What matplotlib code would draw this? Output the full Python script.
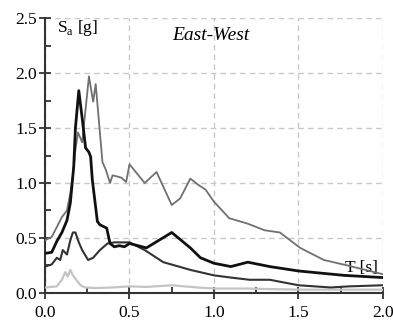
import matplotlib
matplotlib.use("Agg")
import matplotlib.pyplot as plt
from matplotlib.ticker import MultipleLocator

plt.rcParams['font.family'] = ['Liberation Serif', 'DejaVu Serif']
plt.rcParams['mathtext.fontset'] = 'custom'
plt.rcParams['mathtext.rm'] = 'Liberation Serif'

# spectra
t_gray = [0, 0.04, 0.07, 0.10, 0.13, 0.15, 0.165, 0.18, 0.195, 0.22, 0.26, 0.285, 0.30,
          0.34, 0.36, 0.385, 0.40, 0.45, 0.48, 0.50, 0.59, 0.66, 0.75, 0.80, 0.86, 0.91,
          0.95, 1.0, 1.09, 1.2, 1.3, 1.39, 1.51, 1.65, 1.79, 2.0]
sa_gray = [0.48, 0.51, 0.60, 0.69, 0.75, 0.91, 1.07, 1.30, 1.46, 1.37, 1.97, 1.74, 1.90,
           1.19, 1.12, 1.00, 1.07, 1.05, 1.01, 1.17, 1.0, 1.1, 0.8, 0.86, 1.04, 0.98,
           0.94, 0.83, 0.68, 0.63, 0.57, 0.55, 0.41, 0.30, 0.25, 0.17]

t_black = [0, 0.04, 0.07, 0.10, 0.13, 0.15, 0.17, 0.18, 0.20, 0.22, 0.24, 0.26, 0.27,
           0.28, 0.31, 0.325, 0.365, 0.385, 0.41, 0.44, 0.47, 0.50, 0.60, 0.75, 0.86,
           0.92, 1.0, 1.1, 1.2, 1.33, 1.5, 1.77, 2.0]
sa_black = [0.36, 0.37, 0.47, 0.55, 0.66, 0.82, 1.15, 1.5, 1.84, 1.59, 1.32, 1.28, 1.24,
            1.03, 0.65, 0.62, 0.59, 0.45, 0.42, 0.43, 0.42, 0.45, 0.41, 0.55, 0.41,
            0.32, 0.27, 0.24, 0.28, 0.24, 0.20, 0.16, 0.14]

t_dark = [0, 0.04, 0.07, 0.09, 0.105, 0.13, 0.15, 0.165, 0.18, 0.20, 0.22, 0.255, 0.285,
          0.325, 0.37, 0.41, 0.50, 0.59, 0.70, 0.86, 1.0, 1.1, 1.21, 1.33, 1.5, 1.69,
          1.8, 2.0]
sa_dark = [0.24, 0.26, 0.32, 0.30, 0.39, 0.35, 0.48, 0.55, 0.55, 0.46, 0.39, 0.30, 0.32,
           0.39, 0.45, 0.46, 0.46, 0.39, 0.28, 0.21, 0.16, 0.14, 0.12, 0.12, 0.07, 0.05,
           0.06, 0.07]

t_light = [0, 0.07, 0.10, 0.12, 0.135, 0.15, 0.165, 0.185, 0.21, 0.235, 0.3, 0.4, 0.5,
           0.6, 0.75, 0.9, 1.0, 1.2, 1.5, 1.75, 2.0]
sa_light = [0.05, 0.06, 0.12, 0.19, 0.15, 0.21, 0.16, 0.12, 0.07, 0.05, 0.045, 0.05,
            0.06, 0.055, 0.07, 0.05, 0.04, 0.04, 0.03, 0.03, 0.03]

fig = plt.figure(figsize=(3.93, 3.23), dpi=100)
ax = fig.add_axes([0.1145, 0.093, 0.86, 0.851])

ax.plot(t_light, sa_light, color='#c4c4c4', lw=1.6, zorder=3)
ax.plot(t_dark, sa_dark, color='#333333', lw=1.5, zorder=4)
ax.plot(t_gray, sa_gray, color='#707070', lw=1.3, zorder=4)
ax.plot(t_black, sa_black, color='#111111', lw=2.0, zorder=5)

ax.set_xlim(0, 2.0)
ax.set_ylim(0, 2.5)
ax.xaxis.set_major_locator(MultipleLocator(0.5))
ax.xaxis.set_minor_locator(MultipleLocator(0.25))
ax.yaxis.set_major_locator(MultipleLocator(0.5))
ax.yaxis.set_minor_locator(MultipleLocator(0.25))
ax.xaxis.set_major_formatter(lambda v, p: '%.1f' % v)
ax.yaxis.set_major_formatter(lambda v, p: '%.1f' % v)
ax.grid(True, which='major', ls=(0, (4, 3)), color='#c8c8c8', lw=1.0)
ax.set_axisbelow(True)

for s in ['top', 'right']:
    ax.spines[s].set_visible(False)
for s in ['left', 'bottom']:
    ax.spines[s].set_color('#333333')
    ax.spines[s].set_linewidth(1.5)
ax.tick_params(which='major', direction='inout', length=8, width=1.3, color='#333333',
               labelsize=12.5, pad=2)
ax.tick_params(which='minor', direction='in', length=4, width=1.3, color='#333333')
ax.tick_params(axis='x', pad=5)

ax.text(0.07, 2.41, r'S$_\mathrm{a}$ [g]', fontsize=12.5, va='center', ha='left')
ax.text(0.98, 2.34, 'East-West', fontsize=14, style='italic', va='center', ha='center')
ax.text(1.87, 0.23, 'T [s]', fontsize=12.5, va='center', ha='center')

fig.savefig('out.png', dpi=100)
